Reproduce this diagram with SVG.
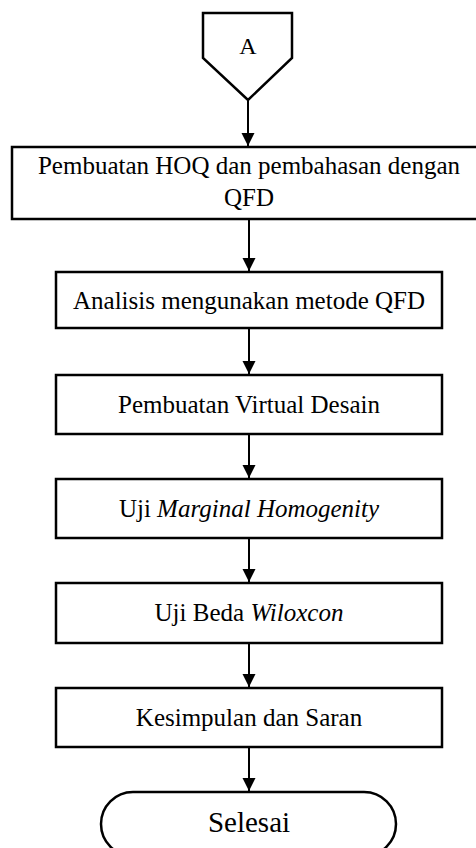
<svg xmlns="http://www.w3.org/2000/svg" width="476" height="848" viewBox="0 0 476 848">
<style>
.box{fill:#fff;stroke:#000;stroke-width:2.5}
.t{font-family:"Liberation Serif","Times New Roman",serif;font-size:25px;fill:#000;text-anchor:middle}
.conn line{stroke:#000;stroke-width:2}
</style>
<defs>
<marker id="ah" markerWidth="14" markerHeight="14" refX="13" refY="6.5" orient="auto" markerUnits="userSpaceOnUse">
<path d="M0,0 L13,6.5 L0,13 Z" fill="#000"/>
</marker>
</defs>
<rect width="476" height="848" fill="#fff"/>
<g id="conn" class="conn">
<line x1="248" y1="100" x2="248" y2="146" marker-end="url(#ah)"/>
<line x1="249" y1="219" x2="249" y2="271" marker-end="url(#ah)"/>
<line x1="249" y1="328" x2="249" y2="374" marker-end="url(#ah)"/>
<line x1="249" y1="434" x2="249" y2="478" marker-end="url(#ah)"/>
<line x1="249" y1="538" x2="249" y2="582" marker-end="url(#ah)"/>
<line x1="249" y1="643" x2="249" y2="687" marker-end="url(#ah)"/>
<line x1="249" y1="747" x2="249" y2="791" marker-end="url(#ah)"/>
</g>
<g id="nodeA">
<path class="box" d="M203,13 L292,13 L292,58 L248,100 L203,58 Z"/>
<text class="t" x="248" y="54" style="font-size:24px">A</text>
</g>
<g id="node1">
<rect class="box" x="12" y="147" width="470" height="72"/>
<text class="t" x="249" y="174">Pembuatan HOQ dan pembahasan dengan</text>
<text class="t" x="249" y="206">QFD</text>
</g>
<g id="node2">
<rect class="box" x="56" y="272" width="386" height="56"/>
<text class="t" x="249" y="309">Analisis mengunakan metode QFD</text>
</g>
<g id="node3">
<rect class="box" x="56" y="375" width="386" height="59"/>
<text class="t" x="249" y="413">Pembuatan Virtual Desain</text>
</g>
<g id="node4">
<rect class="box" x="56" y="479" width="386" height="59"/>
<text class="t" x="249" y="517">Uji <tspan font-style="italic">Marginal Homogenity</tspan></text>
</g>
<g id="node5">
<rect class="box" x="56" y="583" width="386" height="60"/>
<text class="t" x="249" y="621">Uji Beda <tspan font-style="italic">Wiloxcon</tspan></text>
</g>
<g id="node6">
<rect class="box" x="56" y="688" width="386" height="59"/>
<text class="t" x="249" y="726">Kesimpulan dan Saran</text>
</g>
<g id="end">
<rect class="box" x="101" y="792" width="295" height="64" rx="32" ry="32"/>
<text class="t" x="249" y="832" style="font-size:29px">Selesai</text>
</g>
</svg>
